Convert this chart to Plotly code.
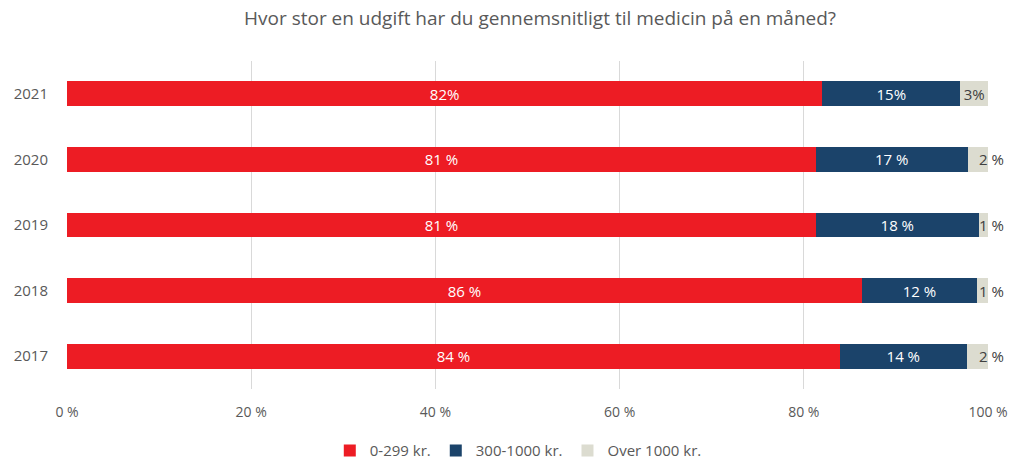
import plotly.graph_objects as go

years = ["2017", "2018", "2019", "2020", "2021"]
low = [83.9, 86.3, 81.3, 81.3, 82.0]
mid = [13.8, 12.5, 17.7, 16.5, 15.0]
high = [2.3, 1.2, 1.0, 2.2, 3.0]
low_labels = ["84 %", "86 %", "81 %", "81 %", "82%"]
mid_labels = ["14 %", "12 %", "18 %", "17 %", "15%"]
high_labels = ["2 %", "1 %", "1 %", "2 %", "3%"]
high_inside = [False, False, False, False, True]
series_names = ["0-299 kr.", "300-1000 kr.", "Over 1000 kr."]
x_ticks = [0, 20, 40, 60, 80, 100]
x_ticktext = ["0 %", "20 %", "40 %", "60 %", "80 %", "100 %"]

FONT = "Open Sans"
GREY_TXT = "#595959"
fig = go.Figure()
fig.add_trace(go.Bar(y=years, x=low, orientation="h", name=series_names[0],
                     marker=dict(color="#ED1C24", line=dict(width=0)),
                     text=low_labels, textposition="inside", insidetextanchor="middle",
                     constraintext="none",
                     textfont=dict(color="white", size=15, family=FONT)))
fig.add_trace(go.Bar(y=years, x=mid, orientation="h", name=series_names[1],
                     marker=dict(color="#1B436A", line=dict(width=0)),
                     text=mid_labels, textposition="inside", insidetextanchor="middle",
                     constraintext="none",
                     textfont=dict(color="white", size=15, family=FONT)))
fig.add_trace(go.Bar(y=years, x=high, orientation="h", name=series_names[2],
                     marker=dict(color="#DCDCD0", line=dict(width=0)),
                     text=[t if ins else "" for t, ins in zip(high_labels, high_inside)],
                     textposition="inside", insidetextanchor="middle",
                     constraintext="none",
                     textfont=dict(color="#404040", size=15, family=FONT),
                     cliponaxis=False))

# labels of the thin grey segments, placed at the end of each stacked bar
for i, (a, b, c, t, ins) in enumerate(zip(low, mid, high, high_labels, high_inside)):
    if ins:
        continue
    fig.add_annotation(x=a + b + c, y=i, xref="x", yref="y", text=t, showarrow=False,
                       xanchor="center", yanchor="middle", xshift=3,
                       font=dict(color="#404040", size=15, family=FONT))

fig.update_layout(
    barmode="stack",
    bargap=0.62,
    width=1013, height=463,
    margin=dict(l=67, r=25, t=61, b=74, autoexpand=False),
    paper_bgcolor="white", plot_bgcolor="white",
    font=dict(family=FONT, color=GREY_TXT, size=14),
    uniformtext=dict(mode=False),
    title=dict(text="Hvor stor en udgift har du gennemsnitligt til medicin på en måned?",
               x=0.5136, xanchor="center", xref="paper",
               y=0.961, yanchor="middle", yref="container",
               font=dict(size=19, color=GREY_TXT, family=FONT)),
    legend=dict(orientation="h", x=0.49, xanchor="center", y=-0.188, yanchor="middle",
                font=dict(size=15, color=GREY_TXT), traceorder="normal"),
    xaxis=dict(range=[0, 100], tickvals=x_ticks, ticktext=x_ticktext,
               showgrid=True, gridcolor="#D9D9D9", gridwidth=1, automargin=False,
               zeroline=False, showline=False, ticks="", ticklabelstandoff=13,
               tickfont=dict(size=14, color=GREY_TXT)),
    yaxis=dict(type="category", categoryorder="array", categoryarray=years,
               range=[-0.5, len(years) - 0.5],
               showgrid=False, zeroline=False, showline=False, ticks="", automargin=False,
               ticklabelstandoff=18, tickfont=dict(size=15, color=GREY_TXT)),
)
fig.write_html("out.html", config={"displayModeBar": False},
               post_script="document.body.style.margin='0';")
